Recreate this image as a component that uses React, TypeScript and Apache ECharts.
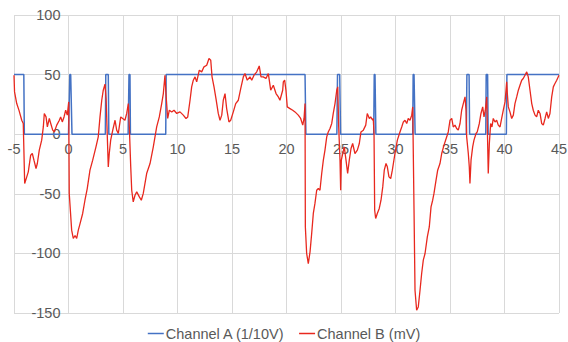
import React, { useEffect, useRef } from "react";
import * as echarts from "echarts";

const xTicks = { min: -5, max: 45, interval: 5 };
const yTicks = { min: -150, max: 100, interval: 50 };

const seriesNames = ["Channel A (1/10V)", "Channel B (mV)"];

// Channel A: square wave (x in ms, value in 1/10 V)
const channelA: [number, number][] = [
  [-5, 50], [-4.1, 50], [-4.05, 0], [0, 0], [0.12, 50], [0.2, 50], [0.32, 0],
  [3.38, 0], [3.42, 50], [3.65, 50], [3.7, 0], [5.47, 0], [5.55, 50], [5.64, 50],
  [5.68, 0], [8.92, 0], [8.96, 50], [21.7, 50], [21.78, 0], [24.62, 0], [24.68, 50],
  [24.88, 50], [24.96, 0], [28.0, 0], [28.05, 50], [28.12, 50], [28.2, 0], [31.58, 0],
  [31.62, 50], [31.7, 50], [31.8, 0], [36.5, 0], [36.55, 50], [36.75, 50], [36.8, 0],
  [38.28, 0], [38.32, 50], [38.45, 50], [38.5, 0], [40.17, 0], [40.22, 50], [45, 50],
];

// Channel B: noisy signal (mV)
const channelB: [number, number][] = [
  [-5, 49.5], [-4.95, 35.5], [-4.75, 25.7], [-4.54, 20], [-4.29, 11.7], [-4.15, 9],
  [-4.02, -41.4], [-3.83, -35.8], [-3.69, -31.6], [-3.47, -17.6], [-3.32, -16.2],
  [-3.17, -21.8], [-2.98, -28.8], [-2.86, -24.6], [-2.68, -13.4], [-2.46, -5],
  [-2.31, 6.1], [-2.22, 17.4], [-2.06, 14.5], [-1.94, 6.1], [-1.76, 13.2], [-1.63, 9],
  [-1.45, 3.4], [-1.3, 1.9], [-1.08, 7.6], [-0.84, 11.7], [-0.72, 14.5], [-0.57, 10.3],
  [-0.41, 14.5], [-0.26, 20.1], [-0.11, 16], [0.02, 27.1], [0.07, -50], [0.29, -80.5],
  [0.44, -87.5], [0.6, -85], [0.75, -87.5], [0.9, -80.5], [1.06, -75], [1.3, -66.5],
  [1.51, -55.4], [1.72, -45.6], [1.97, -30.2], [2.22, -21.8], [2.52, -10.6],
  [2.73, -2.2], [2.89, 14.5], [3.05, 28.5], [3.19, 36.9], [3.35, 42], [3.45, 30],
  [3.65, -27.4], [3.74, -16.2], [3.87, -5], [4.06, 3.4], [4.27, 11.7], [4.42, 3.4],
  [4.57, 0.6], [4.79, 14.5], [4.97, 13.2], [5.18, 11.7], [5.34, 17.4], [5.49, 25.7],
  [5.58, 6.1], [5.71, -27.4], [5.8, -47], [5.94, -56.8], [6.1, -51.2], [6.26, -48.4],
  [6.5, -52.6], [6.68, -55.4], [6.86, -49.7], [7.17, -33], [7.48, -24.6], [7.78, -10.6],
  [8.09, 6.1], [8.33, 14.5], [8.55, 25.7], [8.7, 34.1], [8.85, 49.5], [8.94, 34.1],
  [9.1, 13.2], [9.25, 20.1], [9.47, 18.7], [9.68, 20.1], [9.93, 17.4], [10.23, 18.7],
  [10.53, 16], [10.78, 13.2], [10.94, 14.5], [11.15, 28.5], [11.3, 39.7], [11.45, 45.3],
  [11.61, 48.1], [11.76, 43.9], [12.0, 53.7], [12.22, 52.3], [12.43, 56.5], [12.68, 57.9],
  [12.89, 63.5], [13.05, 62.1], [13.17, 48.1], [13.35, 39.7], [13.53, 29.9], [13.74, 17.4],
  [13.9, 11.7], [14.06, 16], [14.2, 28.5], [14.36, 34.1], [14.51, 21.5], [14.72, 10.3],
  [14.88, 11.7], [15.12, 18.7], [15.34, 25.7], [15.58, 28.5], [15.8, 38.3], [16.04, 48.1],
  [16.19, 50.9], [16.4, 45.3], [16.65, 48.1], [16.81, 45.3], [17.02, 49.5], [17.27, 52.3],
  [17.5, 57.3], [17.66, 48.1], [17.87, 48.1], [18.12, 46.7], [18.33, 50.9], [18.42, 45.3],
  [18.55, 36.9], [18.79, 41.1], [19.04, 34.1], [19.25, 31.3], [19.4, 28.5], [19.65, 36.9],
  [19.71, 43.9], [19.83, 45.3], [19.95, 36.9], [20.07, 22.9], [20.32, 21.5], [20.57, 20.1],
  [20.78, 18.7], [21.08, 16], [21.3, 13.2], [21.49, 7.6], [21.61, 13.2], [21.7, 25.7],
  [21.73, -77.8], [21.85, -100.1], [22.0, -108.5], [22.16, -98.7], [22.31, -83.3],
  [22.46, -66.5], [22.61, -58.1], [22.77, -47], [22.92, -45.6], [23.07, -47], [23.23, -33],
  [23.38, -21.8], [23.53, -13.4], [23.69, -2.2], [23.83, 1.9], [23.99, 4.8], [24.15, 9],
  [24.29, 17.4], [24.45, 25.7], [24.61, 36.9], [24.7, 39.7], [24.79, 6.1], [24.91, -21.8],
  [24.97, -47], [25.03, -21.8], [25.16, -16.2], [25.3, -10.6], [25.46, -21.8], [25.61, -33],
  [25.76, -21.8], [25.92, -12], [26.07, -7.8], [26.28, -16.2], [26.5, -13.4], [26.68, -7.8],
  [26.83, 1.9], [27.05, 3.4], [27.27, 7.6], [27.41, 17.4], [27.6, 13.2], [27.72, 14.5],
  [27.91, 11.7], [27.96, 13.2], [28.03, 0.6], [28.09, -63.8], [28.18, -70.7], [28.33, -66.5],
  [28.51, -62.3], [28.67, -55.4], [28.83, -44.2], [28.97, -30.2], [29.13, -24.6],
  [29.25, -27.4], [29.4, -35.8], [29.56, -37.2], [29.71, -30.2], [29.95, -16.2], [30.17, -5],
  [30.41, 1.9], [30.57, 6.1], [30.72, 10.3], [30.87, 11.7], [31.03, 9], [31.17, 13.2],
  [31.33, 11.7], [31.49, 16], [31.58, 22.9], [31.7, -63.8], [31.79, -130.9], [31.94, -147.7],
  [32.09, -144.9], [32.25, -130.9], [32.4, -116.9], [32.55, -105.7], [32.71, -100.1],
  [32.92, -86.2], [33.1, -77.8], [33.26, -61], [33.41, -55.4], [33.53, -49.7], [33.72, -38.6],
  [33.87, -30.2], [34.08, -24.6], [34.24, -16.2], [34.45, -9.2], [34.7, -2.2], [34.84, 1.9],
  [35.0, 11.7], [35.16, 13.2], [35.3, 6.1], [35.46, 7.6], [35.61, 4.8], [35.76, 3.4],
  [35.92, 9], [36.07, 20.1], [36.22, 25.7], [36.38, 31.3], [36.47, 20.1], [36.53, -2.2],
  [36.68, -16.2], [36.77, -27.4], [36.83, -41.4], [36.93, -21.8], [37.08, -10.6], [37.2, -5],
  [37.39, 0.6], [37.5, 1.9], [37.69, 9], [37.84, 17.4], [38.0, 22.9], [38.12, 14.5],
  [38.24, 20.1], [38.37, 31.3], [38.51, -33], [38.61, -7.8], [38.73, 9], [38.85, 6.1],
  [38.97, 13.2], [39.13, 10.3], [39.28, 11.7], [39.43, 7.6], [39.59, 6.1], [39.74, 13.2],
  [39.89, 20.1], [40.05, 27.1], [40.2, 43.9], [40.26, 34.1], [40.35, 22.9], [40.5, 18.7],
  [40.66, 13.2], [40.81, 16], [40.96, 25.7], [41.12, 31.3], [41.27, 36.9], [41.42, 41.1],
  [41.58, 45.3], [41.72, 46.7], [41.88, 49.5], [42.04, 52.3], [42.18, 48.1], [42.34, 36.9],
  [42.5, 25.7], [42.64, 20.1], [42.8, 16], [42.95, 14.5], [43.1, 20.1], [43.26, 17.4],
  [43.41, 9], [43.56, 7.6], [43.72, 13.2], [43.87, 18.7], [44.02, 13.2], [44.17, 17.4],
  [44.33, 31.3], [44.48, 39.7], [44.63, 42.5], [44.79, 45.3], [45.0, 49.5],
];

const GRID = { left: 14, right: 9, top: 15, bottom: 29 };
const W = 568;
const H = 342;

export default function App() {
  const ref = useRef<HTMLDivElement>(null);
  useEffect(() => {
    document.body.style.margin = "0";
    const chart = echarts.init(ref.current!, null, { renderer: "svg" });
    const font = "'Liberation Sans', Arial, sans-serif";
    const gridColor = "#d9d9d9";
    const plotW = W - GRID.left - GRID.right;
    const plotH = H - GRID.top - GRID.bottom;
    // place axes where the other axis passes through zero
    const yAxisOffset = -plotW * (0 - xTicks.min) / (xTicks.max - xTicks.min);
    const xAxisOffset = -plotH * (0 - yTicks.min) / (yTicks.max - yTicks.min);
    chart.setOption({
      animation: false,
      backgroundColor: "#ffffff",
      grid: { ...GRID, containLabel: false, outerBoundsMode: "none" },
      legend: {
        data: seriesNames,
        left: "center",
        top: 321,
        icon: "rect",
        itemWidth: 16,
        itemHeight: 1.5,
        itemGap: 14,
        textStyle: { color: "#595959", fontSize: 14.5, fontFamily: font, padding: [0, 0, 0, -3] },
      },
      xAxis: {
        type: "value",
        position: "bottom",
        offset: xAxisOffset,
        min: xTicks.min,
        max: xTicks.max,
        interval: xTicks.interval,
        axisLine: { show: false, onZero: false },
        axisTick: { show: false },
        axisLabel: { color: "#595959", fontSize: 14.5, fontFamily: font, margin: 7, showMinLabel: true, showMaxLabel: true },
        splitLine: { show: true, lineStyle: { color: gridColor, width: 1 } },
      },
      yAxis: {
        type: "value",
        position: "left",
        offset: yAxisOffset,
        min: yTicks.min,
        max: yTicks.max,
        interval: yTicks.interval,
        axisLine: { show: false, onZero: false },
        axisTick: { show: false },
        axisLabel: { color: "#595959", fontSize: 14.5, fontFamily: font, margin: 8, showMinLabel: true, showMaxLabel: true },
        splitLine: { show: true, lineStyle: { color: gridColor, width: 1 } },
      },
      series: [
        {
          name: seriesNames[0],
          type: "line",
          data: channelA,
          symbol: "none",
          lineStyle: { color: "#4472C4", width: 1.5 },
          itemStyle: { color: "#4472C4" },
          z: 2,
        },
        {
          name: seriesNames[1],
          type: "line",
          data: channelB,
          symbol: "none",
          lineStyle: { color: "#E8281E", width: 1.3 },
          itemStyle: { color: "#E8281E" },
          z: 3,
        },
      ],
    });
    return () => chart.dispose();
  }, []);
  return <div ref={ref} style={{ width: W, height: H }} />;
}
